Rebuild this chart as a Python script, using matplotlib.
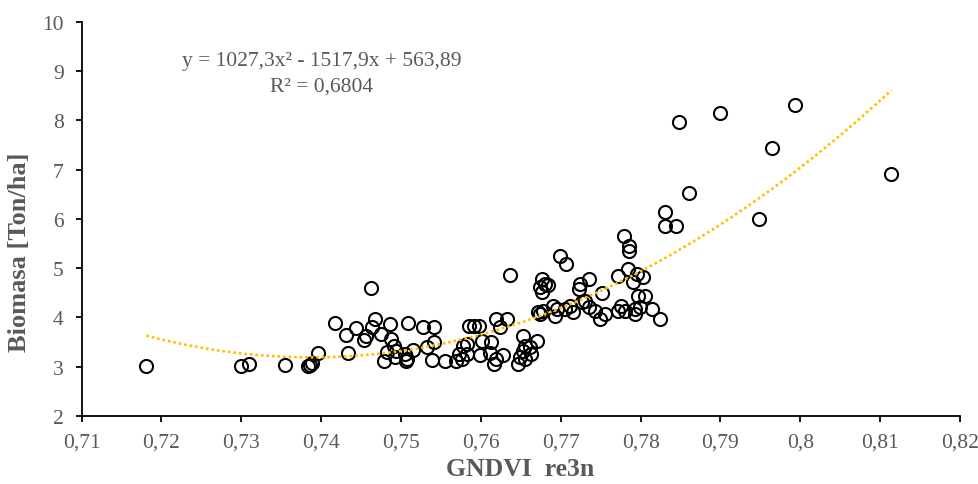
import numpy as np
import matplotlib
matplotlib.use("Agg")
from matplotlib import pyplot as plt
from matplotlib.ticker import FuncFormatter, MultipleLocator

plt.rcParams['font.family'] = ['Liberation Serif', 'DejaVu Serif']

# GNDVI re3n vs biomass
gndvi = [
    0.7181, 0.7300, 0.7309, 0.7355, 0.7384, 0.7386, 0.7388, 0.7396, 0.7417, 0.7431,
    0.7434, 0.7462, 0.7443, 0.7453, 0.7456, 0.7468, 0.7464, 0.7475, 0.7486, 0.7509,
    0.7488, 0.7491, 0.7482, 0.7479, 0.7492, 0.7494, 0.7505, 0.7506, 0.7507, 0.7515,
    0.7637, 0.7528, 0.7541, 0.7532, 0.7541, 0.7539, 0.7555, 0.7585, 0.7591, 0.7597,
    0.7619, 0.7633, 0.7624, 0.7582, 0.7578, 0.7573, 0.7576, 0.7569, 0.7582, 0.7599,
    0.7602, 0.7613, 0.7611, 0.7617, 0.7619, 0.7628, 0.7649, 0.7647, 0.7653, 0.7655,
    0.7653, 0.7699, 0.7706, 0.7676, 0.7680, 0.7674, 0.7676, 0.7684, 0.7736, 0.7724,
    0.7723, 0.7752, 0.7772, 0.7672, 0.7678, 0.7674, 0.7690, 0.7695, 0.7693, 0.7705,
    0.7711, 0.7715, 0.7726, 0.7730, 0.7736, 0.7743, 0.7749, 0.7755, 0.7772, 0.7776,
    0.7780, 0.7661, 0.7663, 0.7670, 0.7655, 0.7779, 0.7786, 0.7786, 0.7784, 0.7795,
    0.7803, 0.7791, 0.7797, 0.7805, 0.7793, 0.7799, 0.7793, 0.7814, 0.7824, 0.7848,
    0.7900, 0.7993, 0.7965, 0.8114, 0.7861, 0.7831, 0.7831, 0.7844, 0.7948,
]
biomasa = [
    3.01, 3.02, 3.06, 3.04, 3.01, 3.04, 3.07, 3.29, 3.88, 3.65,
    3.28, 4.59, 3.78, 3.55, 3.62, 3.97, 3.81, 3.67, 3.87, 3.88,
    3.56, 3.43, 3.31, 3.11, 3.20, 3.33, 3.26, 3.11, 3.16, 3.34,
    4.87, 3.80, 3.80, 3.40, 3.50, 3.14, 3.12, 3.83, 3.83, 3.83,
    3.97, 3.96, 3.80, 3.46, 3.43, 3.26, 3.16, 3.12, 3.26, 3.23,
    3.53, 3.50, 3.29, 3.06, 3.16, 3.23, 3.19, 3.06, 3.63, 3.43,
    3.33, 5.25, 5.09, 4.78, 4.68, 4.61, 4.51, 4.65, 4.78, 4.68,
    4.58, 4.49, 4.85, 4.11, 4.14, 4.07, 4.24, 4.17, 4.04, 4.17,
    4.24, 4.11, 4.31, 4.34, 4.21, 4.14, 3.97, 4.07, 4.14, 4.24,
    4.14, 3.40, 3.26, 3.53, 3.16, 5.66, 5.46, 5.35, 4.98, 4.88,
    4.82, 4.71, 4.44, 4.44, 4.17, 4.21, 4.07, 4.17, 3.97, 7.97,
    8.14, 8.32, 7.44, 6.92, 6.52, 6.13, 5.86, 5.85, 5.99,
]

# polynomial trendline as printed on the chart
coef = [1027.3, -1517.9, 563.89]
equation = "y = 1027,3x\u00b2 - 1517,9x + 563,89"
r2_text = "R\u00b2 = 0,6804"

gray = '#595959'

fig = plt.figure(figsize=(9.79, 4.85), dpi=100)
fig.patch.set_facecolor('white')
ax = fig.add_axes([0.0834, 0.140, 0.8972, 0.8132])

xs = np.linspace(min(gndvi), max(gndvi), 300)
ax.plot(xs, np.polyval(coef, xs), color='#FFC000', lw=1.9, dashes=(1, 1.1), zorder=3)

ax.plot(gndvi, biomasa, 'o', ms=9.4, mfc='none', mec='black', mew=1.5, zorder=2)

ax.set_xlim(0.71, 0.82)
ax.set_ylim(2, 10)
ax.xaxis.set_major_locator(MultipleLocator(0.01))
ax.yaxis.set_major_locator(MultipleLocator(1))
ax.xaxis.set_major_formatter(FuncFormatter(lambda v, p: f"{round(v, 2):g}".replace('.', ',')))
ax.yaxis.set_major_formatter(FuncFormatter(lambda v, p: f"{v:g}"))

for s in ['top', 'right']:
    ax.spines[s].set_visible(False)
for s in ['left', 'bottom']:
    ax.spines[s].set_linewidth(1.3)
    ax.spines[s].set_color('black')

ax.tick_params(axis='both', direction='out', length=4, width=1.3, color='black',
               labelcolor=gray, labelsize=15.5)
ax.tick_params(axis='x', pad=8)
ax.tick_params(axis='y', pad=9)

ax.text(0.7401, 9.21, equation, ha='center', va='center', fontsize=15.5, color=gray)
ax.text(0.7401, 8.70, r2_text, ha='center', va='center', fontsize=15.5, color=gray)

fig.text(520 / 979, 1 - 470 / 485, "GNDVI  re3n", ha='center', va='center',
         fontsize=18.5, fontweight='bold', color=gray)
fig.text(20 / 979, 1 - 252 / 485, "Biomasa [Ton/ha]", ha='center', va='center',
         rotation=90, fontsize=19, fontweight='bold', color=gray)

fig.savefig('out.png', dpi=100)
